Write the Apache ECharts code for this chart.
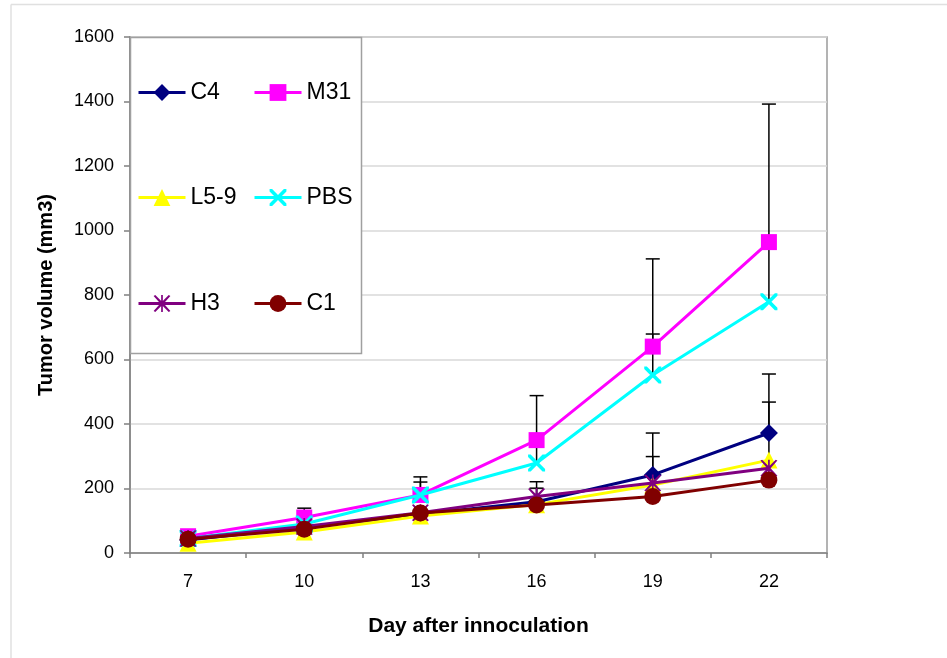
<!DOCTYPE html>
<html>
<head>
<meta charset="utf-8">
<script src="https://cdn.jsdelivr.net/npm/echarts@6/dist/echarts.min.js"></script>
<style>
  html, body { margin: 0; padding: 0; background: #fff; }
  #chart { width: 947px; height: 658px; }
</style>
</head>
<body>
<div id="chart"></div>
<script>
// values
var days = ['7', '10', '13', '16', '19', '22'];
var yTicks = [0, 200, 400, 600, 800, 1000, 1200, 1400, 1600];

var c4   = [40, 80, 120, 159, 242, 372];
var m31  = [52, 110, 180, 350, 640, 964];
var l59  = [30, 65, 115, 150, 211, 288];
var pbs  = [45, 90, 180, 279, 552, 779];
var h3   = [45, 82, 125, 175, 217, 263];
var c1   = [43, 74, 124, 149, 175, 226];

// upper ends of the error bars (null = none shown)
var c4Err  = [null, null, null, 221, 372, 555];
var m31Err = [null, 139, 236, 488, 912, 1392];
var l59Err = [null, null, null, null, 299, 468];
var pbsErr = [null, null, 220, 330, 679, 965];
var h3Err  = [null, null, null, 201, null, null];
var c1Err  = [null, null, null, null, null, null];

var names  = ['C4', 'M31', 'L5-9', 'PBS', 'H3', 'C1'];
var values = [c4, m31, l59, pbs, h3, c1];
var errs   = [c4Err, m31Err, l59Err, pbsErr, h3Err, c1Err];
var colors = ['#000080', '#FF00FF', '#FFFF00', '#00FFFF', '#800080', '#800000'];

var xPath = 'path://M0,0 L3,0 L10,7 L17,0 L20,0 L20,3 L13,10 L20,17 L20,20 L17,20 L10,13 L3,20 L0,20 L0,17 L7,10 L0,3 Z';
var starPath = 'path://M0,1 L2,0 L10,8 L18,0 L20,1 L12,10 L20,19 L18,20 L10,12 L2,20 L0,19 L8,10 Z M9,0 L11,0 L11,20 L9,20 Z';
var symbols = ['diamond', 'rect', 'triangle', xPath, starPath, 'circle'];
var sizes   = [18, 16, 17, 17, 17, 17];

var chart = echarts.init(document.getElementById('chart'));

var series = [];
// error bars first so markers sit on top
values.forEach(function (vals, i) {
  var d = [];
  errs[i].forEach(function (e, k) {
    if (e != null) d.push([k, vals[k], e]);
  });
  series.push({
    type: 'custom',
    name: names[i] + ' err',
    z: 1,
    silent: true,
    renderItem: function (params, api) {
      var x = api.value(0);
      var lo = api.coord([x, api.value(1)]);
      var hi = api.coord([x, api.value(2)]);
      var st = { stroke: '#000', lineWidth: 1.5 };
      return {
        type: 'group',
        children: [
          { type: 'line', shape: { x1: lo[0], y1: lo[1], x2: hi[0], y2: hi[1] }, style: st },
          { type: 'line', shape: { x1: hi[0] - 7, y1: hi[1], x2: hi[0] + 7, y2: hi[1] }, style: st }
        ]
      };
    },
    encode: { x: 0, y: [1, 2] },
    data: d
  });
});

values.forEach(function (vals, i) {
  series.push({
    type: 'line',
    name: names[i],
    data: vals,
    z: 2 + i,
    symbol: symbols[i],
    symbolSize: sizes[i],
    showAllSymbol: true,
    lineStyle: { color: colors[i], width: 3 },
    itemStyle: { color: colors[i], borderWidth: 0 },
    emphasis: { disabled: true }
  });
});

// legend: 2 columns x 3 rows, each item placed on its own
var legendPos = [[137, 81], [253, 81], [137, 186], [253, 186], [137, 292], [253, 292]];
var legends = names.map(function (n, i) {
  return {
    data: [n],
    left: legendPos[i][0],
    top: legendPos[i][1],
    z: 20,
    itemWidth: 47,
    itemHeight: 21,
    itemGap: 0,
    padding: 0,
    selectedMode: false,
    lineStyle: { width: 3 },
    textStyle: { fontFamily: 'Liberation Sans', fontSize: 23, color: '#000' }
  };
});

chart.setOption({
  backgroundColor: '#fff',
  animation: false,
  grid: { left: 130, right: 120, top: 37, bottom: 105, show: true, borderColor: '#9a9a9a', borderWidth: 1.5 },
  legend: legends,
  graphic: [
    { type: 'line', shape: { x1: 11, y1: 4.5, x2: 947, y2: 4.5 }, style: { stroke: '#e0e0e0', lineWidth: 1.5 }, z: -1 },
    { type: 'line', shape: { x1: 11, y1: 4.5, x2: 11, y2: 658 }, style: { stroke: '#e0e0e0', lineWidth: 1.5 }, z: -1 },
    { type: 'rect', shape: { x: 130.5, y: 37.5, width: 231, height: 316 }, style: { fill: '#fff', stroke: '#a0a0a0', lineWidth: 1.5 }, z: 10 }
  ],
  xAxis: {
    type: 'category',
    data: days,
    boundaryGap: true,
    name: 'Day after innoculation',
    nameLocation: 'middle',
    nameGap: 63,
    nameTextStyle: { fontFamily: 'Liberation Sans', fontSize: 21, fontWeight: 'bold', color: '#000' },
    axisLine: { lineStyle: { color: '#808080', width: 1.5 } },
    axisTick: { show: true, length: 5, lineStyle: { color: '#808080', width: 1.5 } },
    axisLabel: { fontFamily: 'Liberation Sans', fontSize: 18, color: '#000', margin: 20 },
    splitLine: { show: false }
  },
  yAxis: {
    type: 'value',
    min: yTicks[0],
    max: yTicks[yTicks.length - 1],
    interval: 200,
    name: 'Tumor volume (mm3)',
    nameLocation: 'middle',
    nameGap: 74,
    nameRotate: 90,
    nameTextStyle: { fontFamily: 'Liberation Sans', fontSize: 20, fontWeight: 'bold', color: '#000' },
    axisLine: { show: true, lineStyle: { color: '#808080', width: 1.5 } },
    axisTick: { show: true, length: 6, lineStyle: { color: '#808080', width: 1.5 } },
    axisLabel: { fontFamily: 'Liberation Sans', fontSize: 18, color: '#000', margin: 16, formatter: function (v) { return String(v); } },
    splitLine: { show: true, lineStyle: { color: '#d9d9d9', width: 1.5 } }
  },
  series: series
});
</script>
</body>
</html>
